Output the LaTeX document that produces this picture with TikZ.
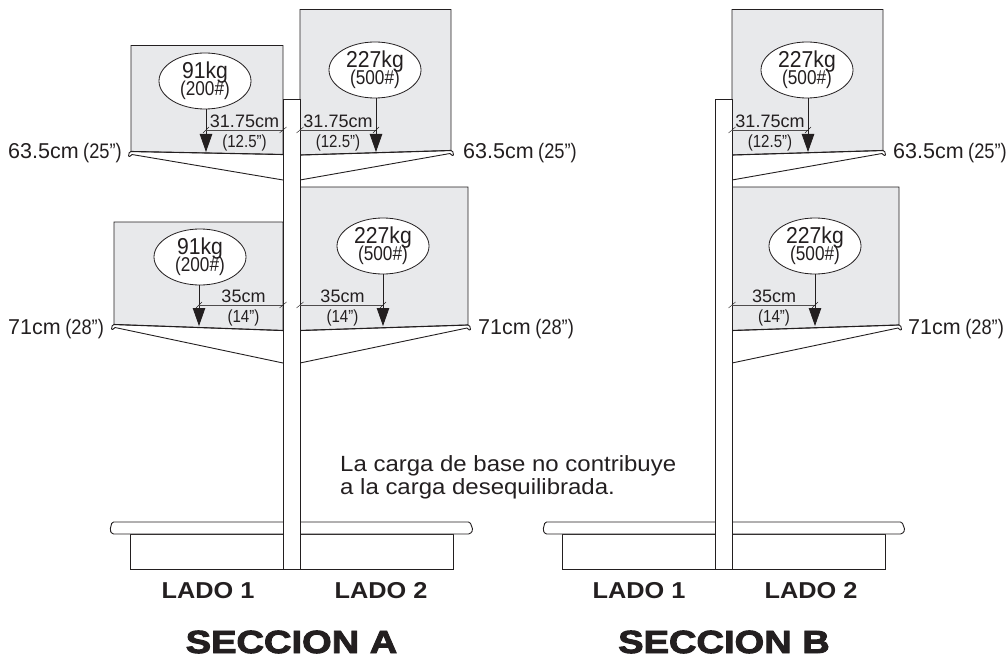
\documentclass[tikz,border=0pt]{standalone}
\usepackage{fontspec}
\setmainfont{Liberation Sans}
\newfontfamily\heavyfont{Liberation Sans}[UprightFont=* Bold,FakeBold=3,FakeStretch=1.19]
\usetikzlibrary{arrows.meta,shapes.geometric}
\definecolor{ink}{HTML}{231F20}
\definecolor{panelgray}{HTML}{E8E9EB}
\tikzset{
  panelbox/.style={fill=panelgray,draw=ink,line width=.7pt},
  shelfline/.style={draw=ink,line width=.9pt,fill=white,line join=round},
  shelftop/.style={draw=ink,line width=1.1pt},
  post/.style={draw=ink,line width=1pt,fill=white},
  loadell/.style={draw=ink,line width=.8pt,fill=white,ellipse,minimum width=92pt,minimum height=56pt,inner sep=0pt,align=center},
  loadarrow/.style={draw=ink,line width=.8pt,-{Triangle[length=18pt,width=12.5pt]}},
  dimline/.style={draw=ink!80,line width=.7pt},
  tick/.style={draw=ink,line width=.4pt},
  big/.style={inner sep=0pt,text=ink,font=\fontsize{21.5}{21.5}\selectfont},
  note/.style={inner sep=0pt,text=ink,font=\fontsize{22}{22}\selectfont},
  sub/.style={inner sep=0pt,text=ink,font=\fontsize{17.5}{17.5}\selectfont},
  lado/.style={inner sep=0pt,text=ink,font=\fontsize{23}{23}\selectfont\bfseries},
  secc/.style={inner sep=0pt,text=ink,font=\fontsize{32}{32}\heavyfont},
}
\newcommand\nar[1]{\scalebox{.86}[1]{#1}}
\newcommand\shelfpart[8]{%
  \draw[shelfline] (#1,#5) -- (#6,#7) -- ({#2+#8*1},{#3+3}) .. controls ({#2-#8*1},{#3+5}) and ({#2-#8*2},{#3+6}) .. ({#2-#8*2.5},{#3+4.5})
     .. controls ({#2-#8*2.5},{#3+2}) and ({#2-#8*1.5},{#3}) .. (#2,#3);
  \draw[shelftop] (#2,#3) -- (#1,#4);
  \draw[ink,line width=.8pt] (#1,#4) -- (#1,{#4+3});
}
\newcommand\panelpart[5]{\path[panelbox] (#1,#3) -- (#2,#3) -- (#2,#5) -- (#1,#4) -- cycle;}
\newcommand\loadpart[8]{%
  \node[loadell] (#1e) at (#2,#3) {};
  \node[inner sep=0pt,text=ink,font=\fontsize{23}{23}\selectfont] at (#2,{#3-8.5}) {\scalebox{.92}[1]{#4}};
  \node[inner sep=0pt,text=ink,font=\fontsize{20}{20}\selectfont] at (#2,{#3+9.5}) {\nar{#5}};
  \coordinate (#1a) at (#2+#8,#6);
  \draw[loadarrow] (#1e.south -| #1a) -- (#1a);
}
\newcommand\dimpart[7]{%
  \coordinate (#1p) at (#2,#4); \coordinate (#1q) at (#3,#4);
  \draw[dimline] (#1p) -- (#1q);
  \draw[tick] ([shift={(-3.5,3)}]#1p) -- ([shift={(3.5,-3)}]#1p);
  \draw[tick] ([shift={(-3,3)}]#1q) -- ([shift={(3,-3)}]#1q);
  \node[sub,font=\fontsize{18}{18}\selectfont,anchor=base] at (#7,{#4-2.5}) {#5};
  \node[sub,anchor=base] at (#7,{#4+17}) {\nar{#6}};
}
\newcommand\sidelabel[4]{\node[big,anchor=base west] (#1) at (#2,#3) {#4};}
\newcommand\inch[1]{\hspace{4.5pt}{\fontsize{21}{21}\selectfont\scalebox{.87}[1]{#1}}}
\begin{document}
\begin{tikzpicture}[x=1pt,y=-1pt]
\useasboundingbox (0,0) rectangle (1006,658);
\panelpart{283}{131}{45.5}{154.5}{151.5}
\panelpart{300}{451}{9.5}{155}{150.5}
\panelpart{283}{114}{222}{330.5}{324.5}
\panelpart{300}{468}{187}{330.5}{325}
\shelfpart{283}{131}{151.5}{154.5}{180}{283}{180}{1}
\shelfpart{300}{451}{150.5}{155}{180}{300}{180}{-1}
\shelfpart{283}{114}{324.5}{330.5}{363}{283}{363}{1}
\shelfpart{300}{468}{325}{330.5}{363}{300}{363}{-1}
\loadpart{a}{205}{81}{91kg}{(200\#)}{152}{130}{1}
\loadpart{b}{375}{70}{227kg}{(500\#)}{152}{130}{1}
\loadpart{c}{200}{257}{91kg}{(200\#)}{326}{305}{-1}
\loadpart{d}{383}{246}{227kg}{(500\#)}{326}{305}{0}
\draw[post] (130,534) rectangle (453,569);
\draw[post,line width=.9pt,rounded corners=1.5pt] (112,522) -- (470,522) -- (473,530) -- (470,534) -- (112,534) -- (110,530) -- cycle;
\node[post,minimum width=16.5pt,minimum height=470pt,inner sep=0pt,anchor=north] (postA) at (291.75,99) {};
\dimpart{da}{283}{206}{130}{31.75cm}{(12.5”)}{244.5}
\dimpart{db}{300}{376}{130}{31.75cm}{(12.5”)}{338}
\dimpart{dc}{283}{199}{305}{35cm}{(14”)}{243.5}
\dimpart{dd}{300}{383}{305}{35cm}{(14”)}{342.5}
\panelpart{732}{883}{9.5}{155}{150.5}
\panelpart{732}{899}{187}{330.5}{325}
\shelfpart{732}{883}{150.5}{155}{180}{732}{180}{-1}
\shelfpart{732}{899}{325}{330.5}{363}{732}{363}{-1}
\loadpart{e}{807}{70}{227kg}{(500\#)}{152}{130}{1}
\loadpart{f}{815}{246}{227kg}{(500\#)}{326}{305}{0}
\draw[post] (562,534) rectangle (885,569);
\draw[post,line width=.9pt,rounded corners=1.5pt] (545,522) -- (902,522) -- (905,530) -- (902,534) -- (545,534) -- (543,530) -- cycle;
\node[post,minimum width=16.5pt,minimum height=470pt,inner sep=0pt,anchor=north] (postB) at (723.75,99) {};
\dimpart{de}{732}{808}{130}{31.75cm}{(12.5”)}{770}
\dimpart{df}{732}{815}{305}{35cm}{(14”)}{774}
\sidelabel{l1}{8}{158}{63.5cm\inch{(25”)}}
\sidelabel{l2}{463}{158}{63.5cm\inch{(25”)}}
\sidelabel{l3}{893}{158}{63.5cm\inch{(25”)}}
\sidelabel{l4}{8}{334}{71cm\inch{(28”)}}
\sidelabel{l5}{478}{334}{71cm\inch{(28”)}}
\sidelabel{l6}{908}{334}{71cm\inch{(28”)}}
\node[note,anchor=base west] (note1) at (340,471) {\scalebox{1.09}[1]{La carga de base no contribuye}};
\node[note,anchor=base west] (note2) at (340,494) {\scalebox{1.09}[1]{a la carga desequilibrada.}};
\node[lado,anchor=base] (a1) at (208,598) {\scalebox{1.1}[1]{LADO 1}};
\node[lado,anchor=base] (a2) at (381,598) {\scalebox{1.1}[1]{LADO 2}};
\node[lado,anchor=base] (b1) at (639,598) {\scalebox{1.1}[1]{LADO 1}};
\node[lado,anchor=base] (b2) at (811,598) {\scalebox{1.1}[1]{LADO 2}};
\node[secc,anchor=base] (sa) at (291.5,653) {SECCION A};
\node[secc,anchor=base] (sb) at (724,653) {SECCION B};
\end{tikzpicture}
\end{document}
